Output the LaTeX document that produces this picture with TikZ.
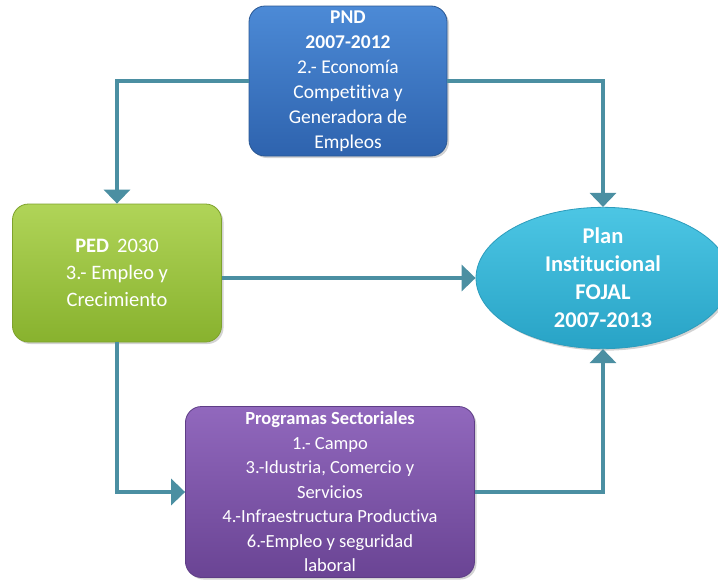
\documentclass[tikz,border=0pt]{standalone}
\usepackage{fontspec}
\setmainfont[Ligatures=NoCommon]{Carlito}
\usetikzlibrary{shapes.geometric,arrows.meta,shadows}
\definecolor{pndtop}{HTML}{4C8AD6}
\definecolor{pndbot}{HTML}{2E63AE}
\definecolor{pndedge}{HTML}{2A5894}
\definecolor{pedtop}{HTML}{B0D458}
\definecolor{pedbot}{HTML}{88B22E}
\definecolor{pededge}{HTML}{7EA22C}
\definecolor{prgtop}{HTML}{9168BD}
\definecolor{prgbot}{HTML}{6A4494}
\definecolor{prgedge}{HTML}{5E3D86}
\definecolor{elltop}{HTML}{4CC6E4}
\definecolor{ellbot}{HTML}{28A3C6}
\definecolor{elledge}{HTML}{2C9CBC}
\definecolor{conn}{HTML}{4B8FA2}
\tikzset{
  box/.style={rectangle, rounded corners=16pt, text=white, align=center,
    draw, line width=0.8pt, inner sep=2pt,
    drop shadow={opacity=0.35, shadow xshift=2pt, shadow yshift=-2pt}},
  conline/.style={draw=conn, line width=4pt,
    -{Triangle[width=26pt,length=14pt]}}
}
\begin{document}
\begin{tikzpicture}[x=1pt,y=-1pt]
\useasboundingbox (0,0) rectangle (718,581);
\node[box, top color=pndtop, bottom color=pndbot, draw=pndedge,
  minimum width=198pt, minimum height=150pt, font=\fontsize{19.5}{25}\selectfont]
  (pnd) at (348,81) {\textbf{PND}\\\textbf{2007-2012}\\2.- Economía\\Competitiva y\\Generadora de\\Empleos};
\node[box, top color=pedtop, bottom color=pedbot, draw=pededge,
  minimum width=209pt, minimum height=138pt, font=\fontsize{20.5}{27}\selectfont]
  (ped) at (117,273) {\textbf{PED}\, 2030\\3.- Empleo y\\Crecimiento};
\node[box, top color=prgtop, bottom color=prgbot, draw=prgedge,
  minimum width=289pt, minimum height=171pt, font=\fontsize{18.5}{24.5}\selectfont]
  (prg) at (330,492) {\textbf{Programas Sectoriales}\\1.- Campo\\3.-Idustria, Comercio y\\Servicios\\4.-Infraestructura Productiva\\6.-Empleo y seguridad\\laboral};
\node[ellipse, top color=elltop, bottom color=ellbot, draw=elledge, line width=0.8pt,
  text=white, align=center, inner sep=0pt,
  drop shadow={opacity=0.35, shadow xshift=2pt, shadow yshift=-2pt},
  minimum width=254pt, minimum height=136pt, font=\bfseries\fontsize{22.5}{28}\selectfont]
  (ell) at (603,278) {Plan\\Institucional\\FOJAL\\2007-2013};
\draw[conline] (pnd.west) -| (ped.north);
\draw[conline] (pnd.east) -| (ell.north);
\draw[conline] (ped.east |- ell.west) -- (ell.west);
\draw[conline] (ped.south) |- (prg.west);
\draw[conline] (prg.east) -| (ell.south);
\end{tikzpicture}
\end{document}
